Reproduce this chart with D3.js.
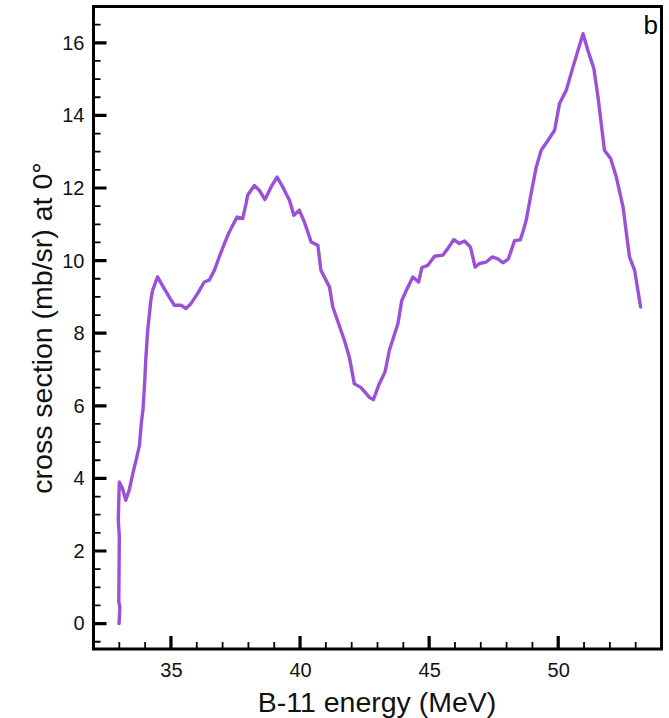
<!DOCTYPE html>
<html>
<head>
<meta charset="utf-8">
<script src="https://cdn.jsdelivr.net/npm/d3@7"></script>
<style>
  html, body { margin: 0; padding: 0; background: #fff; }
  svg { display: block; font-family: "Liberation Sans", Arial, Helvetica, sans-serif; }
</style>
</head>
<body>
<svg id="chart" width="669" height="718"></svg>
<script>
// B-11 beam energy (MeV) and 0-degree cross section (mb/sr)
const energy = [
  32.99, 33.02, 32.98, 33.00, 32.96, 33.00, 33.12, 33.25, 33.38, 33.58, 33.65, 33.78, 33.85, 33.92,
  33.98, 34.03, 34.10, 34.22, 34.29, 34.48, 34.74, 34.93, 35.13, 35.39, 35.58, 35.78, 36.03, 36.29,
  36.48, 36.68, 36.87, 37.07, 37.26, 37.56, 37.78, 37.91, 37.97, 38.23, 38.42, 38.64, 38.88, 39.11,
  39.33, 39.59, 39.76, 39.97, 40.17, 40.43, 40.69, 40.81, 41.14, 41.27, 41.72, 41.91, 42.10, 42.36,
  42.69, 42.84, 43.07, 43.29, 43.46, 43.79, 43.94, 44.15, 44.37, 44.59, 44.72, 44.95, 45.21, 45.53,
  45.72, 45.96, 46.17, 46.37, 46.60, 46.69, 46.78, 46.95, 47.21, 47.44, 47.66, 47.86, 48.07, 48.31,
  48.53, 48.63, 48.76, 48.95, 49.15, 49.34, 49.60, 49.86, 50.05, 50.31, 50.57, 50.96, 51.15, 51.38,
  51.54, 51.79, 52.03, 52.25, 52.51, 52.76, 52.96, 53.19
];
const crossSection = [
  0.00, 0.45, 0.60, 2.40, 2.85, 3.90, 3.73, 3.40, 3.67, 4.31, 4.50, 4.91, 5.51, 5.92,
  6.61, 7.34, 8.08, 8.90, 9.18, 9.55, 9.23, 9.00, 8.77, 8.77, 8.68, 8.82, 9.09, 9.41,
  9.46, 9.73, 10.10, 10.47, 10.79, 11.20, 11.16, 11.57, 11.80, 12.07, 11.94, 11.68, 12.03, 12.30,
  12.03, 11.66, 11.25, 11.39, 11.06, 10.51, 10.42, 9.73, 9.27, 8.72, 7.80, 7.34, 6.61, 6.50,
  6.23, 6.17, 6.61, 6.93, 7.53, 8.26, 8.90, 9.23, 9.55, 9.41, 9.81, 9.87, 10.12, 10.15,
  10.33, 10.58, 10.47, 10.54, 10.37, 10.10, 9.82, 9.92, 9.96, 10.10, 10.05, 9.94, 10.05, 10.55,
  10.57, 10.79, 11.11, 11.85, 12.58, 13.04, 13.31, 13.59, 14.33, 14.69, 15.33, 16.25, 15.79, 15.29,
  14.51, 13.04, 12.81, 12.30, 11.48, 10.10, 9.73, 8.72
];

const xMajorTicks = [35, 40, 45, 50];
const xMinorTicks = [33, 34, 36, 37, 38, 39, 41, 42, 43, 44, 46, 47, 48, 49, 51, 52, 53];
const yMajorTicks = [0, 2, 4, 6, 8, 10, 12, 14, 16];
const yMinorTicks = [-0.5, 0.5, 1, 1.5, 2.5, 3, 3.5, 4.5, 5, 5.5, 6.5, 7, 7.5, 8.5, 9, 9.5,
                     10.5, 11, 11.5, 12.5, 13, 13.5, 14.5, 15, 15.5, 16.5];

const xTitle = "B-11 energy (MeV)";
const yTitle = "cross section (mb/sr) at 0°";
const panelLabel = "b";

const svg = d3.select("#chart");
const plotLeft = 93.5, plotRight = 661.5, plotTop = 6.5, plotBottom = 649;

const x = d3.scaleLinear().domain([32, 54]).range([plotLeft, plotRight]);
const y = d3.scaleLinear().domain([-0.7, 17]).range([plotBottom, plotTop]);

// frame
svg.append("path")
  .attr("d", `M${plotLeft},${plotTop}H${plotRight}V${plotBottom}H${plotLeft}Z`)
  .attr("fill", "none").attr("stroke", "#000").attr("stroke-width", 3);

// inward tick marks, one path per tick class
function tickPath(xs, ys, len) {
  const p = d3.path();
  xs.forEach(v => { p.moveTo(x(v), plotBottom); p.lineTo(x(v), plotBottom - len); });
  ys.forEach(v => { p.moveTo(plotLeft, y(v)); p.lineTo(plotLeft + len, y(v)); });
  return p.toString();
}
svg.append("path")
  .attr("d", tickPath(xMinorTicks, yMinorTicks, 7))
  .attr("fill", "none").attr("stroke", "#000").attr("stroke-width", 1.8);
svg.append("path")
  .attr("d", tickPath(xMajorTicks, yMajorTicks, 13))
  .attr("fill", "none").attr("stroke", "#000").attr("stroke-width", 3.2);

// tick labels via d3 axes
svg.append("g")
  .attr("transform", `translate(0,${plotBottom})`)
  .call(d3.axisBottom(x).tickValues(xMajorTicks).tickSize(0).tickPadding(14).tickFormat(d3.format("d")))
  .call(g => g.select(".domain").remove())
  .call(g => g.selectAll(".tick line").remove())
  .call(g => g.selectAll("text").attr("fill", "#111").attr("font-size", 20)
      .attr("font-family", "'Liberation Sans', Arial, sans-serif"));
svg.append("g")
  .attr("transform", `translate(${plotLeft},0)`)
  .call(d3.axisLeft(y).tickValues(yMajorTicks).tickSize(0).tickPadding(9).tickFormat(d3.format("d")))
  .call(g => g.select(".domain").remove())
  .call(g => g.selectAll(".tick line").remove())
  .call(g => g.selectAll("text").attr("fill", "#111").attr("font-size", 20)
      .attr("font-family", "'Liberation Sans', Arial, sans-serif"));

// data curve
const pts = energy.map((e, i) => [e, crossSection[i]]);
const curve = d3.line().x(d => x(d[0])).y(d => y(d[1]));
svg.append("path")
  .datum(pts)
  .attr("d", curve)
  .attr("fill", "none")
  .attr("stroke", "#9b50d8")
  .attr("stroke-width", 3.4)
  .attr("stroke-linejoin", "round")
  .attr("stroke-linecap", "round");

// titles
svg.append("text")
  .attr("x", 377).attr("y", 712)
  .attr("text-anchor", "middle")
  .attr("font-size", 28.5).attr("fill", "#111")
  .text(xTitle);
svg.append("text")
  .attr("transform", `translate(52,328) rotate(-90)`)
  .attr("text-anchor", "middle")
  .attr("font-size", 28.5).attr("fill", "#111")
  .text(yTitle);
svg.append("text")
  .attr("x", 658).attr("y", 34)
  .attr("text-anchor", "end")
  .attr("font-size", 26).attr("fill", "#000")
  .text(panelLabel);
</script>
</body>
</html>
